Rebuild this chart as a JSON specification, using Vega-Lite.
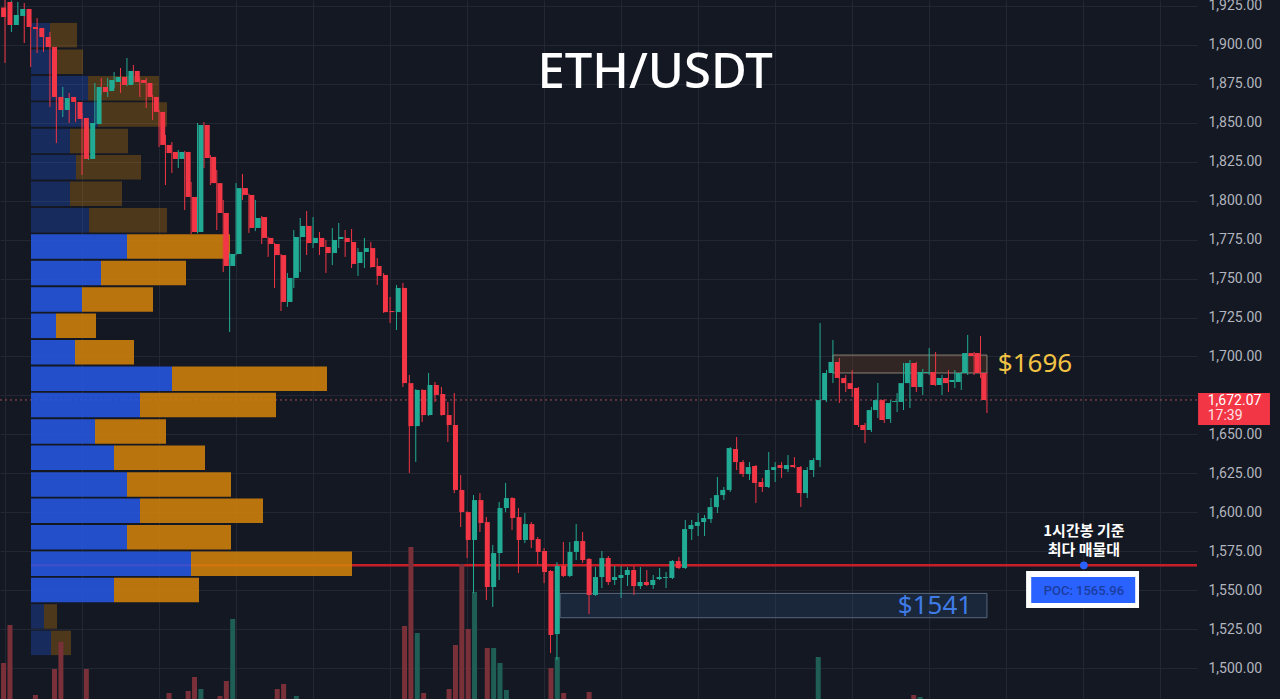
{
  "$schema": "https://vega.github.io/schema/vega-lite/v6.json",
  "width": 1197,
  "height": 699,
  "autosize": {"type": "none"},
  "padding": {"left": 0, "top": 0, "right": 83, "bottom": 0},
  "background": "#141823",
  "config": {"view": {"stroke": null}, "font": "Roboto"},
  "datasets": {
    "candles": [
      {"t":-1,"o":1924,"h":1929,"l":1905,"c":1918,"v":57},
      {"t":0,"o":1927.6,"h":1929,"l":1888.4,"c":1912.8,"v":95},
      {"t":1,"o":1912.8,"h":1928.5,"l":1908.3,"c":1919.2,"v":14},
      {"t":2,"o":1918.6,"h":1927.6,"l":1916.0,"c":1923.1,"v":10},
      {"t":3,"o":1923.1,"h":1926.9,"l":1901.2,"c":1911.5,"v":17},
      {"t":4,"o":1911.5,"h":1916.0,"l":1885.8,"c":1910.2,"v":25},
      {"t":5,"o":1910.9,"h":1917.3,"l":1894.8,"c":1905.1,"v":12},
      {"t":6,"o":1905.1,"h":1908.3,"l":1895.5,"c":1898.7,"v":9},
      {"t":7,"o":1898.7,"h":1908.3,"l":1860.2,"c":1866.6,"v":51},
      {"t":8,"o":1866.6,"h":1872.4,"l":1837.0,"c":1858.2,"v":78},
      {"t":9,"o":1858.2,"h":1873.0,"l":1853.7,"c":1865.9,"v":16},
      {"t":10,"o":1866.6,"h":1869.2,"l":1849.9,"c":1863.4,"v":11},
      {"t":11,"o":1863.4,"h":1864.7,"l":1850.5,"c":1852.5,"v":13},
      {"t":12,"o":1853.1,"h":1856.3,"l":1816.5,"c":1826.8,"v":51},
      {"t":13,"o":1826.8,"h":1850.5,"l":1826.2,"c":1849.9,"v":19},
      {"t":14,"o":1849.2,"h":1875.6,"l":1848.6,"c":1873.0,"v":18},
      {"t":15,"o":1873.0,"h":1878.8,"l":1867.9,"c":1869.8,"v":9},
      {"t":16,"o":1870.4,"h":1878.8,"l":1866.6,"c":1877.5,"v":8},
      {"t":17,"o":1876.2,"h":1882.6,"l":1872.4,"c":1879.4,"v":7},
      {"t":18,"o":1879.4,"h":1885.2,"l":1869.2,"c":1874.3,"v":10},
      {"t":19,"o":1874.3,"h":1891.6,"l":1873.6,"c":1883.3,"v":14},
      {"t":20,"o":1883.3,"h":1887.1,"l":1875.6,"c":1876.2,"v":9},
      {"t":21,"o":1877.5,"h":1878.8,"l":1866.6,"c":1875.6,"v":8},
      {"t":22,"o":1875.6,"h":1878.8,"l":1859.5,"c":1866.6,"v":12},
      {"t":23,"o":1866.6,"h":1867.9,"l":1851.8,"c":1857.0,"v":13},
      {"t":24,"o":1857.0,"h":1858.2,"l":1834.5,"c":1835.8,"v":18},
      {"t":25,"o":1835.8,"h":1842.2,"l":1810.1,"c":1830.6,"v":27},
      {"t":26,"o":1831.3,"h":1837.7,"l":1817.8,"c":1826.8,"v":14},
      {"t":27,"o":1826.8,"h":1832.6,"l":1821.0,"c":1831.3,"v":9},
      {"t":28,"o":1831.3,"h":1831.9,"l":1794.0,"c":1802.4,"v":29},
      {"t":29,"o":1802.4,"h":1812.0,"l":1778.5,"c":1779.9,"v":43},
      {"t":30,"o":1779.9,"h":1849.9,"l":1779.0,"c":1848.6,"v":31},
      {"t":31,"o":1848.6,"h":1850.5,"l":1821.0,"c":1827.4,"v":19},
      {"t":32,"o":1828.1,"h":1829.3,"l":1810.1,"c":1811.3,"v":15},
      {"t":33,"o":1811.3,"h":1819.7,"l":1781.2,"c":1792.1,"v":24},
      {"t":34,"o":1792.1,"h":1800.5,"l":1754.2,"c":1758.1,"v":39},
      {"t":35,"o":1758.1,"h":1766.5,"l":1715.7,"c":1765.8,"v":101},
      {"t":36,"o":1765.8,"h":1811.3,"l":1765.0,"c":1808.1,"v":20},
      {"t":37,"o":1808.1,"h":1817.1,"l":1800.5,"c":1803.7,"v":12},
      {"t":38,"o":1803.7,"h":1804.5,"l":1779.3,"c":1782.5,"v":16},
      {"t":39,"o":1782.5,"h":1800.5,"l":1780.5,"c":1788.9,"v":11},
      {"t":40,"o":1789.5,"h":1790.2,"l":1772.2,"c":1776.1,"v":10},
      {"t":41,"o":1776.1,"h":1776.8,"l":1763.9,"c":1772.2,"v":9},
      {"t":42,"o":1772.2,"h":1772.9,"l":1744.0,"c":1765.1,"v":31},
      {"t":43,"o":1765.1,"h":1765.8,"l":1729.2,"c":1735.0,"v":36},
      {"t":44,"o":1735.0,"h":1753.6,"l":1731.8,"c":1750.4,"v":14},
      {"t":45,"o":1750.4,"h":1781.2,"l":1744.0,"c":1776.7,"v":24},
      {"t":46,"o":1776.7,"h":1788.9,"l":1754.2,"c":1783.8,"v":13},
      {"t":47,"o":1783.8,"h":1793.4,"l":1765.1,"c":1772.8,"v":15},
      {"t":48,"o":1772.8,"h":1789.5,"l":1769.6,"c":1776.1,"v":9},
      {"t":49,"o":1776.1,"h":1779.9,"l":1765.1,"c":1770.3,"v":8},
      {"t":50,"o":1770.3,"h":1774.8,"l":1753.6,"c":1766.4,"v":10},
      {"t":51,"o":1766.4,"h":1782.5,"l":1758.7,"c":1774.8,"v":11},
      {"t":52,"o":1775.4,"h":1785.7,"l":1769.6,"c":1776.7,"v":7},
      {"t":53,"o":1776.1,"h":1781.2,"l":1763.9,"c":1773.5,"v":8},
      {"t":54,"o":1773.5,"h":1781.8,"l":1756.8,"c":1759.4,"v":12},
      {"t":55,"o":1760.0,"h":1769.6,"l":1751.7,"c":1767.1,"v":9},
      {"t":56,"o":1767.1,"h":1776.1,"l":1756.8,"c":1769.6,"v":7},
      {"t":57,"o":1769.6,"h":1773.5,"l":1757.0,"c":1757.4,"v":10},
      {"t":58,"o":1758.1,"h":1763.2,"l":1745.9,"c":1751.7,"v":11},
      {"t":59,"o":1752.3,"h":1753.6,"l":1727.9,"c":1728.5,"v":17},
      {"t":60,"o":1729.2,"h":1738.2,"l":1721.5,"c":1728.5,"v":10},
      {"t":61,"o":1728.5,"h":1745.9,"l":1717.0,"c":1744.0,"v":14},
      {"t":62,"o":1744.0,"h":1747.2,"l":1680.4,"c":1682.9,"v":94},
      {"t":63,"o":1682.9,"h":1688.1,"l":1625.2,"c":1655.3,"v":173},
      {"t":64,"o":1655.3,"h":1679.0,"l":1632.3,"c":1678.5,"v":87},
      {"t":65,"o":1678.5,"h":1679.0,"l":1657.9,"c":1662.4,"v":27},
      {"t":66,"o":1662.4,"h":1689.4,"l":1661.8,"c":1681.7,"v":19},
      {"t":67,"o":1681.7,"h":1683.6,"l":1670.8,"c":1675.3,"v":12},
      {"t":68,"o":1675.9,"h":1680.4,"l":1662.0,"c":1662.4,"v":13},
      {"t":69,"o":1662.4,"h":1670.8,"l":1645.1,"c":1656.0,"v":31},
      {"t":70,"o":1656.0,"h":1676.5,"l":1612.3,"c":1614.3,"v":75},
      {"t":71,"o":1614.3,"h":1623.9,"l":1590.5,"c":1600.1,"v":156},
      {"t":72,"o":1600.1,"h":1600.7,"l":1570.6,"c":1582.2,"v":91},
      {"t":73,"o":1582.2,"h":1611.0,"l":1548.1,"c":1607.8,"v":128},
      {"t":74,"o":1607.8,"h":1612.3,"l":1587.3,"c":1593.1,"v":19},
      {"t":75,"o":1593.7,"h":1597.0,"l":1543.6,"c":1552.0,"v":72},
      {"t":76,"o":1552.0,"h":1579.0,"l":1539.2,"c":1573.8,"v":72},
      {"t":77,"o":1573.8,"h":1606.6,"l":1556.5,"c":1602.7,"v":57},
      {"t":78,"o":1602.7,"h":1618.8,"l":1600.1,"c":1609.1,"v":30},
      {"t":79,"o":1609.1,"h":1609.7,"l":1588.6,"c":1596.3,"v":18},
      {"t":80,"o":1596.9,"h":1602.7,"l":1561.0,"c":1582.2,"v":20},
      {"t":81,"o":1582.2,"h":1599.5,"l":1580.2,"c":1592.4,"v":14},
      {"t":82,"o":1592.4,"h":1593.7,"l":1577.0,"c":1582.2,"v":12},
      {"t":83,"o":1582.8,"h":1584.1,"l":1566.1,"c":1574.5,"v":11},
      {"t":84,"o":1575.1,"h":1577.0,"l":1554.5,"c":1561.6,"v":17},
      {"t":85,"o":1562.3,"h":1562.9,"l":1509.6,"c":1521.2,"v":52},
      {"t":86,"o":1521.8,"h":1568.0,"l":1505.1,"c":1565.5,"v":63},
      {"t":87,"o":1565.5,"h":1580.9,"l":1558.4,"c":1559.1,"v":27},
      {"t":88,"o":1559.1,"h":1580.9,"l":1558.4,"c":1574.5,"v":18},
      {"t":89,"o":1574.5,"h":1592.4,"l":1569.3,"c":1581.5,"v":16},
      {"t":90,"o":1581.5,"h":1587.3,"l":1567.4,"c":1569.3,"v":13},
      {"t":91,"o":1570.0,"h":1570.6,"l":1534.6,"c":1546.9,"v":28},
      {"t":92,"o":1546.9,"h":1564.8,"l":1546.3,"c":1558.4,"v":17},
      {"t":93,"o":1558.4,"h":1575.1,"l":1551.3,"c":1570.6,"v":14},
      {"t":94,"o":1570.6,"h":1571.9,"l":1553.3,"c":1555.2,"v":12},
      {"t":95,"o":1556.5,"h":1565.5,"l":1553.3,"c":1558.4,"v":8},
      {"t":96,"o":1557.8,"h":1565.5,"l":1544.9,"c":1559.7,"v":9},
      {"t":97,"o":1559.7,"h":1564.8,"l":1552.6,"c":1562.9,"v":7},
      {"t":98,"o":1562.9,"h":1565.5,"l":1546.9,"c":1552.6,"v":10},
      {"t":99,"o":1552.6,"h":1564.8,"l":1550.7,"c":1555.2,"v":8},
      {"t":100,"o":1555.2,"h":1562.9,"l":1552.6,"c":1553.3,"v":6},
      {"t":101,"o":1553.3,"h":1559.7,"l":1550.7,"c":1556.5,"v":7},
      {"t":102,"o":1557.1,"h":1564.2,"l":1556.5,"c":1558.4,"v":6},
      {"t":103,"o":1557.8,"h":1561.6,"l":1551.3,"c":1558.4,"v":7},
      {"t":104,"o":1557.8,"h":1569.3,"l":1557.1,"c":1568.7,"v":11},
      {"t":105,"o":1568.7,"h":1571.3,"l":1563.5,"c":1564.2,"v":9},
      {"t":106,"o":1564.2,"h":1595.0,"l":1563.5,"c":1589.2,"v":19},
      {"t":107,"o":1589.2,"h":1595.0,"l":1582.2,"c":1591.8,"v":11},
      {"t":108,"o":1591.2,"h":1599.5,"l":1584.7,"c":1593.7,"v":10},
      {"t":109,"o":1593.7,"h":1598.2,"l":1584.7,"c":1596.3,"v":9},
      {"t":110,"o":1595.6,"h":1609.1,"l":1593.1,"c":1603.3,"v":12},
      {"t":111,"o":1603.3,"h":1622.6,"l":1599.5,"c":1611.0,"v":14},
      {"t":112,"o":1611.0,"h":1616.2,"l":1607.8,"c":1614.3,"v":8},
      {"t":113,"o":1614.3,"h":1641.8,"l":1613.0,"c":1641.2,"v":20},
      {"t":114,"o":1640.6,"h":1648.3,"l":1627.1,"c":1632.2,"v":15},
      {"t":115,"o":1632.2,"h":1633.5,"l":1622.6,"c":1624.5,"v":10},
      {"t":116,"o":1624.5,"h":1632.2,"l":1620.7,"c":1629.0,"v":8},
      {"t":117,"o":1629.7,"h":1630.3,"l":1605.9,"c":1618.8,"v":13},
      {"t":118,"o":1619.4,"h":1622.0,"l":1613.0,"c":1616.2,"v":8},
      {"t":119,"o":1616.2,"h":1638.7,"l":1615.5,"c":1627.1,"v":12},
      {"t":120,"o":1627.1,"h":1632.2,"l":1619.4,"c":1629.0,"v":7},
      {"t":121,"o":1630.3,"h":1632.2,"l":1622.0,"c":1628.4,"v":6},
      {"t":122,"o":1627.7,"h":1636.7,"l":1625.8,"c":1630.3,"v":7},
      {"t":123,"o":1630.3,"h":1635.4,"l":1628.4,"c":1629.0,"v":6},
      {"t":124,"o":1629.0,"h":1629.6,"l":1603.4,"c":1612.3,"v":16},
      {"t":125,"o":1612.3,"h":1629.0,"l":1609.1,"c":1627.1,"v":14},
      {"t":126,"o":1627.1,"h":1634.8,"l":1622.6,"c":1633.5,"v":10},
      {"t":127,"o":1633.5,"h":1721.5,"l":1629.0,"c":1672.0,"v":63},
      {"t":128,"o":1672.0,"h":1691.3,"l":1670.8,"c":1689.4,"v":19},
      {"t":129,"o":1689.4,"h":1710.6,"l":1683.0,"c":1696.5,"v":17},
      {"t":130,"o":1696.5,"h":1699.0,"l":1670.1,"c":1686.2,"v":15},
      {"t":131,"o":1686.2,"h":1688.1,"l":1677.2,"c":1682.9,"v":9},
      {"t":132,"o":1682.9,"h":1691.3,"l":1674.0,"c":1679.1,"v":10},
      {"t":133,"o":1679.8,"h":1680.4,"l":1654.7,"c":1656.0,"v":16},
      {"t":134,"o":1656.0,"h":1657.3,"l":1644.4,"c":1652.8,"v":13},
      {"t":135,"o":1652.8,"h":1667.6,"l":1651.5,"c":1665.6,"v":11},
      {"t":136,"o":1665.6,"h":1683.0,"l":1660.5,"c":1672.0,"v":9},
      {"t":137,"o":1672.0,"h":1672.6,"l":1657.3,"c":1659.2,"v":8},
      {"t":138,"o":1659.8,"h":1672.0,"l":1657.3,"c":1670.1,"v":8},
      {"t":139,"o":1670.8,"h":1676.5,"l":1664.3,"c":1671.4,"v":6},
      {"t":140,"o":1670.8,"h":1695.8,"l":1665.6,"c":1682.9,"v":14},
      {"t":141,"o":1682.9,"h":1697.7,"l":1666.9,"c":1695.8,"v":16},
      {"t":142,"o":1695.8,"h":1696.4,"l":1677.2,"c":1680.4,"v":25},
      {"t":143,"o":1680.4,"h":1692.0,"l":1675.3,"c":1690.0,"v":23},
      {"t":144,"o":1689.4,"h":1705.4,"l":1688.1,"c":1690.0,"v":12},
      {"t":145,"o":1690.0,"h":1702.9,"l":1681.0,"c":1681.7,"v":13},
      {"t":146,"o":1681.7,"h":1688.1,"l":1675.3,"c":1686.2,"v":9},
      {"t":147,"o":1686.2,"h":1691.3,"l":1677.2,"c":1682.9,"v":8},
      {"t":148,"o":1683.6,"h":1691.3,"l":1679.8,"c":1684.9,"v":7},
      {"t":149,"o":1683.6,"h":1690.0,"l":1678.5,"c":1689.4,"v":9},
      {"t":150,"o":1689.4,"h":1713.8,"l":1688.1,"c":1702.2,"v":18},
      {"t":151,"o":1702.2,"h":1702.9,"l":1688.1,"c":1700.3,"v":11},
      {"t":152,"o":1702.2,"h":1713.1,"l":1686.2,"c":1689.4,"v":16},
      {"t":153,"o":1689.4,"h":1689.9,"l":1663.7,"c":1672.07,"v":14}
    ],
    "profile": [
      {"mid":1909.2,"up":19,"down":27,"area":"out"},
      {"mid":1891.9,"up":22,"down":30,"area":"out"},
      {"mid":1874.7,"up":57,"down":71,"area":"out"},
      {"mid":1857.5,"up":67,"down":69,"area":"out"},
      {"mid":1840.3,"up":39,"down":58,"area":"out"},
      {"mid":1823.1,"up":45,"down":65,"area":"out"},
      {"mid":1805.9,"up":39,"down":52,"area":"out"},
      {"mid":1788.7,"up":58,"down":78,"area":"out"},
      {"mid":1771.5,"up":96,"down":103,"area":"in"},
      {"mid":1754.3,"up":70,"down":85,"area":"in"},
      {"mid":1737.1,"up":51,"down":71,"area":"in"},
      {"mid":1719.9,"up":25,"down":40,"area":"in"},
      {"mid":1702.7,"up":44,"down":59,"area":"in"},
      {"mid":1685.5,"up":141,"down":155,"area":"in"},
      {"mid":1668.3,"up":109,"down":136,"area":"in"},
      {"mid":1651.1,"up":64,"down":71,"area":"in"},
      {"mid":1633.9,"up":83,"down":91,"area":"in"},
      {"mid":1616.6,"up":96,"down":104,"area":"in"},
      {"mid":1599.4,"up":109,"down":123,"area":"in"},
      {"mid":1582.2,"up":96,"down":104,"area":"in"},
      {"mid":1565.0,"up":160,"down":161,"area":"in"},
      {"mid":1547.8,"up":83,"down":85,"area":"in"},
      {"mid":1530.6,"up":13,"down":13,"area":"out"},
      {"mid":1513.4,"up":20,"down":20,"area":"out"}
    ]
  },
  "layer": [
    {
      "data": {"values": [{"p": 1672.07}]},
      "mark": {"type": "rule", "color": "#a24e57", "strokeWidth": 1, "strokeDash": [2, 3]},
      "encoding": {
        "y": {"field": "p", "type": "quantitative", "scale": {"domain": [1480.1, 1928.85], "nice": false, "zero": false}, "axis": null}
      }
    },
    {
      "data": {"values": [{"p": 1565.96, "a": 0, "b": 1166}]},
      "mark": {"type": "rule", "color": "#c81e28", "strokeWidth": 2.5},
      "encoding": {
        "y": {"field": "p", "type": "quantitative", "scale": {"domain": [1480.1, 1928.85], "nice": false, "zero": false}, "axis": null},
        "x": {"field": "a", "type": "quantitative", "scale": {"domain": [0, 1166], "range": [31, 1197], "nice": false, "zero": false}, "axis": null},
        "x2": {"field": "b"}
      }
    },
    {
      "data": {"name": "profile"},
      "transform": [
        {"fold": ["up", "down"], "as": ["side", "vol"]},
        {"stack": "vol", "groupby": ["mid"], "sort": [{"field": "side", "order": "descending"}], "as": ["v0", "v1"]}
      ],
      "mark": {"type": "bar", "size": 24.5, "orient": "horizontal", "clip": true},
      "encoding": {
        "y": {"field": "mid", "type": "quantitative", "scale": {"domain": [1480.1, 1928.85], "nice": false, "zero": false}, "axis": null},
        "x": {"field": "v0", "type": "quantitative", "scale": {"domain": [0, 1166], "range": [31, 1197], "nice": false, "zero": false}, "axis": null},
        "x2": {"field": "v1"},
        "color": {"field": "side", "type": "nominal", "scale": {"domain": ["up", "down"], "range": ["#2659e5", "#d5830a"]}, "legend": null},
        "fillOpacity": {"field": "area", "type": "nominal", "scale": {"domain": ["in", "out"], "range": [0.86, 0.3]}, "legend": null}
      }
    },
    {
      "data": {"name": "candles"},
      "mark": {"type": "bar", "size": 5, "clip": true},
      "encoding": {
        "x": {"field": "t", "type": "quantitative", "scale": {"domain": [-0.78, 185.73], "nice": false, "zero": false}, "axis": null},
        "y": {"field": "v", "type": "quantitative", "scale": {"domain": [21, 720], "nice": false, "zero": false}, "axis": null, "stack": null},
        "color": {"condition": {"test": "datum.c >= datum.o", "value": "#1f5e55"}, "value": "#7a3038"}
      }
    },
    {
      "data": {"values": [{"t0": 129.0, "t1": 153.0, "p0": 1689.4, "p1": 1700.9}]},
      "mark": {"type": "rect", "fill": "#7a4a2a", "fillOpacity": 0.3, "stroke": "#8d8273", "strokeWidth": 1},
      "encoding": {
        "x": {"field": "t0", "type": "quantitative", "scale": {"domain": [-0.78, 185.73], "nice": false, "zero": false}, "axis": null},
        "x2": {"field": "t1"},
        "y": {"field": "p0", "type": "quantitative", "scale": {"domain": [1480.1, 1928.85], "nice": false, "zero": false}, "axis": null},
        "y2": {"field": "p1"}
      }
    },
    {
      "data": {"values": [{"t0": 86.5, "t1": 153.0, "p0": 1532.3, "p1": 1547.9}]},
      "mark": {"type": "rect", "fill": "#2a4a70", "fillOpacity": 0.3, "stroke": "#56667c", "strokeWidth": 1},
      "encoding": {
        "x": {"field": "t0", "type": "quantitative", "scale": {"domain": [-0.78, 185.73], "nice": false, "zero": false}, "axis": null},
        "x2": {"field": "t1"},
        "y": {"field": "p0", "type": "quantitative", "scale": {"domain": [1480.1, 1928.85], "nice": false, "zero": false}, "axis": null},
        "y2": {"field": "p1"}
      }
    },
    {
      "data": {"name": "candles"},
      "mark": {"type": "rule", "strokeWidth": 1, "clip": true},
      "encoding": {
        "x": {"field": "t", "type": "quantitative", "scale": {"domain": [-0.78, 185.73], "nice": false, "zero": false},
              "axis": {"values": [0, 12, 24, 36, 48, 60, 72, 84, 96, 108, 120, 132, 144, 156, 168, 180], "labels": false, "ticks": false, "domain": false, "grid": true, "gridColor": "#232733", "gridWidth": 1, "title": null}},
        "y": {"field": "l", "type": "quantitative", "scale": {"domain": [1480.1, 1928.85], "nice": false, "zero": false},
              "axis": {"orient": "right", "values": [1500, 1525, 1550, 1575, 1600, 1625, 1650, 1675, 1700, 1725, 1750, 1775, 1800, 1825, 1850, 1875, 1900, 1925], "format": ",.2f", "labelExpr": "datum.value == 1675 ? '' : datum.label", "grid": true, "gridColor": "#232733", "gridWidth": 1, "ticks": false, "domain": false, "labelColor": "#b2b5be", "labelFontSize": 14, "labelFont": "Roboto", "labelPadding": 11, "labelOverlap": false, "title": null}},
        "y2": {"field": "h"},
        "color": {"condition": {"test": "datum.c >= datum.o", "value": "#22ab94"}, "value": "#f23645"}
      }
    },
    {
      "data": {"name": "candles"},
      "mark": {"type": "bar", "size": 5, "clip": true},
      "encoding": {
        "x": {"field": "t", "type": "quantitative", "scale": {"domain": [-0.78, 185.73], "nice": false, "zero": false}, "axis": null},
        "y": {"field": "o", "type": "quantitative", "scale": {"domain": [1480.1, 1928.85], "nice": false, "zero": false}, "axis": null},
        "y2": {"field": "c"},
        "color": {"condition": {"test": "datum.c >= datum.o", "value": "#22ab94"}, "value": "#f23645"}
      }
    },
    {
      "data": {"values": [{"t": 101.3, "p": 1872.3, "label": "ETH/USDT"}]},
      "mark": {"type": "text", "font": "Noto Sans", "fontSize": 49, "fontWeight": 500, "color": "#ffffff", "align": "center", "baseline": "alphabetic"},
      "encoding": {
        "x": {"field": "t", "type": "quantitative", "scale": {"domain": [-0.78, 185.73], "nice": false, "zero": false}, "axis": null},
        "y": {"field": "p", "type": "quantitative", "scale": {"domain": [1480.1, 1928.85], "nice": false, "zero": false}, "axis": null},
        "text": {"field": "label"}
      }
    },
    {
      "data": {"values": [{"t": 154.7, "p": 1690.0, "label": "$1696"}]},
      "mark": {"type": "text", "font": "Noto Sans", "fontSize": 26, "color": "#f3c343", "align": "left", "baseline": "alphabetic"},
      "encoding": {
        "x": {"field": "t", "type": "quantitative", "scale": {"domain": [-0.78, 185.73], "nice": false, "zero": false}, "axis": null},
        "y": {"field": "p", "type": "quantitative", "scale": {"domain": [1480.1, 1928.85], "nice": false, "zero": false}, "axis": null},
        "text": {"field": "label"}
      }
    },
    {
      "data": {"values": [{"t": 150.7, "p": 1534.6, "label": "$1541"}]},
      "mark": {"type": "text", "font": "Noto Sans", "fontSize": 26, "color": "#3f7ce6", "align": "right", "baseline": "alphabetic"},
      "encoding": {
        "x": {"field": "t", "type": "quantitative", "scale": {"domain": [-0.78, 185.73], "nice": false, "zero": false}, "axis": null},
        "y": {"field": "p", "type": "quantitative", "scale": {"domain": [1480.1, 1928.85], "nice": false, "zero": false}, "axis": null},
        "text": {"field": "label"}
      }
    },
    {
      "data": {"values": [{"t": 168.1, "p": 1584.6, "label": "1시간봉 기준"}, {"t": 168.1, "p": 1572.3, "label": "최다 매물대"}]},
      "mark": {"type": "text", "font": "Noto Sans CJK KR", "fontSize": 15, "fontWeight": "bold", "color": "#ffffff", "align": "center", "baseline": "alphabetic"},
      "encoding": {
        "x": {"field": "t", "type": "quantitative", "scale": {"domain": [-0.78, 185.73], "nice": false, "zero": false}, "axis": null},
        "y": {"field": "p", "type": "quantitative", "scale": {"domain": [1480.1, 1928.85], "nice": false, "zero": false}, "axis": null},
        "text": {"field": "label"}
      }
    },
    {
      "data": {"values": [{"t": 168.1, "p": 1565.96}]},
      "mark": {"type": "point", "shape": "circle", "filled": true, "size": 60, "color": "#2962ff", "opacity": 1},
      "encoding": {
        "x": {"field": "t", "type": "quantitative", "scale": {"domain": [-0.78, 185.73], "nice": false, "zero": false}, "axis": null},
        "y": {"field": "p", "type": "quantitative", "scale": {"domain": [1480.1, 1928.85], "nice": false, "zero": false}, "axis": null}
      }
    },
    {
      "data": {"values": [{"t0": 159.1, "t1": 176.7, "p0": 1538.5, "p1": 1562.3}]},
      "mark": {"type": "rect", "fill": "#ffffff"},
      "encoding": {
        "x": {"field": "t0", "type": "quantitative", "scale": {"domain": [-0.78, 185.73], "nice": false, "zero": false}, "axis": null},
        "x2": {"field": "t1"},
        "y": {"field": "p0", "type": "quantitative", "scale": {"domain": [1480.1, 1928.85], "nice": false, "zero": false}, "axis": null},
        "y2": {"field": "p1"}
      }
    },
    {
      "data": {"values": [{"t0": 159.9, "t1": 176.1, "p0": 1541.7, "p1": 1558.4}]},
      "mark": {"type": "rect", "fill": "#2962ff"},
      "encoding": {
        "x": {"field": "t0", "type": "quantitative", "scale": {"domain": [-0.78, 185.73], "nice": false, "zero": false}, "axis": null},
        "x2": {"field": "t1"},
        "y": {"field": "p0", "type": "quantitative", "scale": {"domain": [1480.1, 1928.85], "nice": false, "zero": false}, "axis": null},
        "y2": {"field": "p1"}
      }
    },
    {
      "data": {"values": [{"t": 168.1, "p": 1546.8, "label": "POC: 1565.96"}]},
      "mark": {"type": "text", "font": "Roboto", "fontSize": 13, "fontWeight": 500, "color": "#1c3c9e", "align": "center", "baseline": "alphabetic"},
      "encoding": {
        "x": {"field": "t", "type": "quantitative", "scale": {"domain": [-0.78, 185.73], "nice": false, "zero": false}, "axis": null},
        "y": {"field": "p", "type": "quantitative", "scale": {"domain": [1480.1, 1928.85], "nice": false, "zero": false}, "axis": null},
        "text": {"field": "label"}
      }
    },
    {
      "data": {"values": [{"t0": 185.9, "t1": 197.1, "p0": 1656.0, "p1": 1676.5}]},
      "mark": {"type": "rect", "fill": "#f23645", "clip": false},
      "encoding": {
        "x": {"field": "t0", "type": "quantitative", "scale": {"domain": [-0.78, 185.73], "nice": false, "zero": false}, "axis": null},
        "x2": {"field": "t1"},
        "y": {"field": "p0", "type": "quantitative", "scale": {"domain": [1480.1, 1928.85], "nice": false, "zero": false}, "axis": null},
        "y2": {"field": "p1"}
      }
    },
    {
      "data": {"values": [{"t": 187.4, "p": 1668.8, "label": "1,672.07", "k": "a"}, {"t": 187.4, "p": 1659.2, "label": "17:39", "k": "b"}]},
      "mark": {"type": "text", "font": "Roboto", "fontSize": 14, "align": "left", "baseline": "alphabetic", "clip": false},
      "encoding": {
        "x": {"field": "t", "type": "quantitative", "scale": {"domain": [-0.78, 185.73], "nice": false, "zero": false}, "axis": null},
        "y": {"field": "p", "type": "quantitative", "scale": {"domain": [1480.1, 1928.85], "nice": false, "zero": false}, "axis": null},
        "text": {"field": "label"},
        "color": {"field": "k", "type": "nominal", "scale": {"domain": ["a", "b"], "range": ["#ffffff", "#fde3e6"]}, "legend": null}
      }
    }
  ],
  "resolve": {"scale": {"x": "independent", "y": "independent", "color": "independent", "fillOpacity": "independent"}}
}
